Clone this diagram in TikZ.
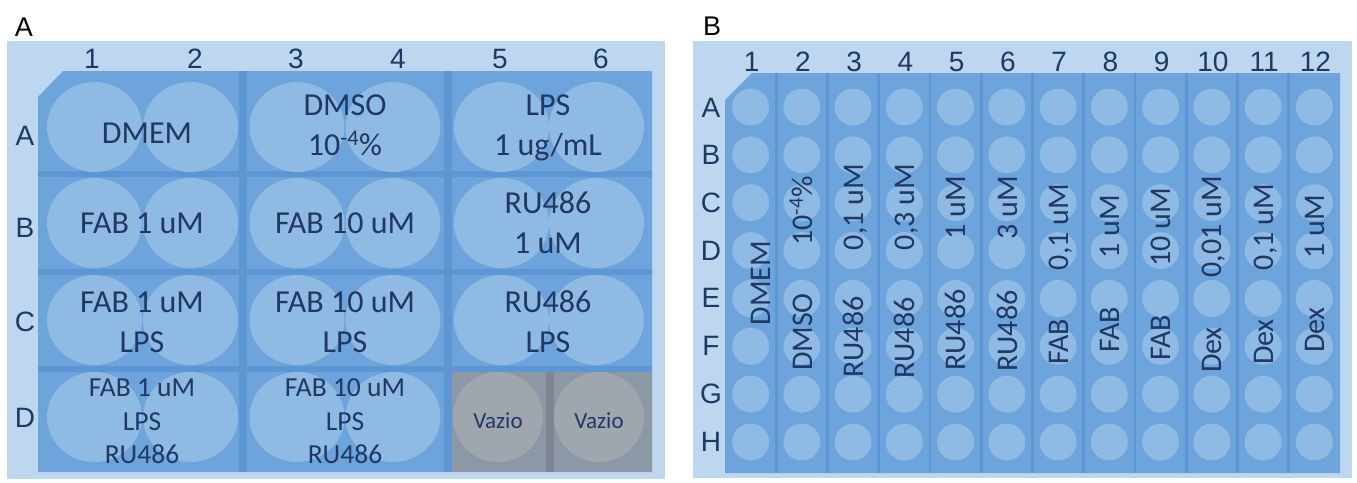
\documentclass[tikz,border=0pt]{standalone}
\usepackage{fontspec}
\setmainfont{Carlito}
\newfontfamily\arialf{Liberation Sans}
\definecolor{outerc}{RGB}{189,215,238}
\definecolor{platec}{RGB}{108,164,219}
\definecolor{divc}{RGB}{92,150,211}
\definecolor{wellc}{RGB}{143,186,227}
\definecolor{grayc}{RGB}{140,152,166}
\definecolor{graydiv}{RGB}{124,133,145}
\definecolor{graywell}{RGB}{160,166,174}
\definecolor{navy}{RGB}{31,56,100}
\begin{document}
\begin{tikzpicture}[x=1pt,y=-1pt,
  head/.style={font=\arialf\fontsize{28}{32}\selectfont, text=navy, inner sep=0pt, anchor=center},
  panel/.style={font=\arialf\fontsize{27}{32}\selectfont, text=black, inner sep=0pt, anchor=center},
  wtxt/.style={font=\fontsize{32}{40}\selectfont, text=navy, inner sep=0pt, anchor=base},
  wtxs/.style={font=\fontsize{27.5}{34}\selectfont, text=navy, inner sep=0pt, anchor=base},
  vaz/.style={font=\fontsize{23}{28}\selectfont, text=navy, inner sep=0pt, anchor=base},
  vtxt/.style={font=\fontsize{30}{36}\selectfont, text=navy, inner sep=0pt, anchor=base, rotate=90}]
\useasboundingbox (0,0) rectangle (1357,482);
\fill[white] (0,0) rectangle (1357,482);
% ---------------- Panel A ----------------
\node[panel] (labA) at (24,27) {A};
\fill[outerc] (7,41) rectangle (665,479);
\fill[platec] (38,97) -- (63,71) -- (652,71) -- (652,472) -- (38,472) -- cycle;
\fill[divc] (239,71) rectangle (247,472);
\fill[divc] (444,71) rectangle (452,472);
\fill[divc] (38,171) rectangle (652,177);
\fill[divc] (38,269) rectangle (652,275);
\fill[divc] (38,366) rectangle (652,372);
\fill[grayc] (452,372) rectangle (652,472);
\fill[graydiv] (546,372) rectangle (554,472);
\foreach \x in {94.5,190.5,297,393}
  \foreach \y in {127,223,320,417}
    \fill[wellc] (\x,\y) ellipse[x radius=47.5pt, y radius=45pt];
\foreach \x in {501.5,596.5}
  \foreach \y in {127,223,320}
    \fill[wellc] (\x,\y) ellipse[x radius=47.5pt, y radius=45pt];
\fill[graywell] (498,417) circle[radius=45pt];
\fill[graywell] (599,417) circle[radius=45pt];
% column / row headings A
\node[head] (ac1) at (92,59) {1};
\node[head] (ac2) at (195,59) {2};
\node[head] (ac3) at (296,59) {3};
\node[head] (ac4) at (398,59) {4};
\node[head] (ac5) at (500,59) {5};
\node[head] (ac6) at (601,59) {6};
\node[head] (arA) at (25,136) {A};
\node[head] (arB) at (25,228) {B};
\node[head] (arC) at (25,322) {C};
\node[head] (arD) at (25,418) {D};
% well texts A
\node[wtxt] (a11) at (147,143) {DMEM};
\node[wtxt] (a12a) at (345,115) {DMSO};
\node[wtxt] (a12b) at (345,155) {10\textsuperscript{-4}\%};
\node[wtxt] (a13a) at (548,115) {LPS};
\node[wtxt] (a13b) at (548,155) {1 ug/mL};
\node[wtxt] (a21) at (142,233) {FAB 1 uM};
\node[wtxt] (a22) at (345,233) {FAB 10 uM};
\node[wtxt] (a23a) at (548,213) {RU486};
\node[wtxt] (a23b) at (548,253) {1 uM};
\node[wtxt] (a31a) at (142,312) {FAB 1 uM};
\node[wtxt] (a31b) at (142,352) {LPS};
\node[wtxt] (a32a) at (345,312) {FAB 10 uM};
\node[wtxt] (a32b) at (345,352) {LPS};
\node[wtxt] (a33a) at (548,312) {RU486};
\node[wtxt] (a33b) at (548,352) {LPS};
\node[wtxs] (a41a) at (142,396) {FAB 1 uM};
\node[wtxs] (a41b) at (142,430) {LPS};
\node[wtxs] (a41c) at (142,463) {RU486};
\node[wtxs] (a42a) at (345,396) {FAB 10 uM};
\node[wtxs] (a42b) at (345,430) {LPS};
\node[wtxs] (a42c) at (345,463) {RU486};
\node[vaz] (a45) at (498,428) {Vazio};
\node[vaz] (a46) at (599,428) {Vazio};
% ---------------- Panel B ----------------
\node[panel] (labB) at (712,26) {B};
\fill[outerc] (693,41) rectangle (1352,478);
\fill[platec] (725,100) -- (752,73) -- (1340,73) -- (1340,473) -- (725,473) -- cycle;
\foreach \k in {1,...,11}
  \fill[divc] ({725+51.25*\k-1.3},73) rectangle ({725+51.25*\k+1.3},473);
\foreach \i in {0,...,11}
  \foreach \j in {0,...,7}
    \fill[wellc] ({750.6+51.25*\i},{107+47.86*\j}) circle[radius=18.5pt];
% column headings B
\foreach \k/\lab in {1/1,2/2,3/3,4/4,5/5,6/6,7/7,8/8,9/9,10/10,11/11,12/12}
  \node[head] (bc\k) at ({750.6+51.25*(\k-1)+1},62) {\lab};
\foreach \r/\yy in {A/108,B/155,C/203,D/251,E/298,F/346,G/394,H/442}
  \node[head] (br\r) at (711,\yy) {\r};
% vertical texts B
\node[vtxt] (b1a) at (770,283) {DMEM};
\node[vtxt] (b2a) at (812,211) {10\textsuperscript{-4}\%};
\node[vtxt] (b2b) at (812,332) {DMSO};
\node[vtxt] (b3a) at (863,207) {0,1 uM};
\node[vtxt] (b3b) at (863,337) {RU486};
\node[vtxt] (b4a) at (914,207) {0,3 uM};
\node[vtxt] (b4b) at (914,338) {RU486};
\node[vtxt] (b5a) at (965,208) {1 uM};
\node[vtxt] (b5b) at (965,330) {RU486};
\node[vtxt] (b6a) at (1017,208) {3 uM};
\node[vtxt] (b6b) at (1017,331) {RU486};
\node[vtxt] (b7a) at (1068,227) {0,1 uM};
\node[vtxt] (b7b) at (1068,342) {FAB};
\node[vtxt] (b8a) at (1119,227) {1 uM};
\node[vtxt] (b8b) at (1119,330) {FAB};
\node[vtxt] (b9a) at (1170,227) {10 uM};
\node[vtxt] (b9b) at (1170,338) {FAB};
\node[vtxt] (b10a) at (1221,227) {0,01 uM};
\node[vtxt] (b10b) at (1221,350) {Dex};
\node[vtxt] (b11a) at (1273,227) {0,1 uM};
\node[vtxt] (b11b) at (1273,342) {Dex};
\node[vtxt] (b12a) at (1324,227) {1 uM};
\node[vtxt] (b12b) at (1324,330) {Dex};
\end{tikzpicture}
\end{document}
